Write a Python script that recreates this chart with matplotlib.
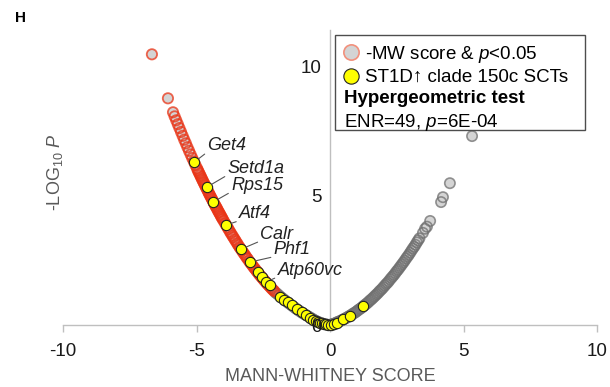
import numpy as np
import matplotlib
matplotlib.use('Agg')
import matplotlib.pyplot as plt
from matplotlib.lines import Line2D
from matplotlib.patches import Rectangle

plt.rcParams['font.family'] = ['Liberation Sans', 'DejaVu Sans']
plt.rcParams['mathtext.fontset'] = 'custom'
plt.rcParams['mathtext.rm'] = 'Liberation Sans'
plt.rcParams['mathtext.it'] = 'Liberation Sans:italic'
plt.rcParams['mathtext.bf'] = 'Liberation Sans:bold'
plt.rcParams['axes.unicode_minus'] = False

# all genes, negative MW score side
left_x = [-6.67, -6.07, -5.88, -5.82, -5.76, -5.70, -5.64, -5.58, -5.52, -5.46, -5.40, -5.34,
          -5.28, -5.22, -5.16, -5.10, -5.04, -4.98, -4.92, -4.86, -4.80, -4.74, -4.68, -4.62,
          -4.56, -4.50, -4.44, -4.38, -4.32, -4.26, -4.20, -4.14, -4.08, -4.02, -3.93, -3.84,
          -3.75, -3.66, -3.57, -3.48, -3.39, -3.30, -3.21, -3.12, -3.03, -2.94, -2.85, -2.76,
          -2.67, -2.58, -2.49, -2.40, -2.31, -2.22, -2.13, -2.04, -1.92, -1.79, -1.66, -1.53,
          -1.40, -1.27, -1.14, -1.01, -0.88, -0.75, -0.62, -0.49, -0.36, -0.23, -0.10, 0.0]
left_y = [10.46, 8.76, 8.22, 8.06, 7.91, 7.76, 7.61, 7.46, 7.31, 7.16, 7.02, 6.87,
          6.73, 6.59, 6.45, 6.32, 6.18, 6.05, 5.91, 5.78, 5.65, 5.52, 5.40, 5.27,
          5.14, 5.02, 4.90, 4.78, 4.66, 4.55, 4.43, 4.32, 4.20, 4.09, 3.93, 3.77,
          3.61, 3.46, 3.31, 3.16, 3.01, 2.88, 2.74, 2.60, 2.47, 2.35, 2.22, 2.10,
          1.98, 1.87, 1.76, 1.65, 1.55, 1.45, 1.35, 1.25, 1.15, 1.04, 0.93, 0.83,
          0.73, 0.63, 0.54, 0.45, 0.37, 0.29, 0.21, 0.14, 0.08, 0.04, 0.01, 0.0]
left2_x = [-4.95, -4.89, -4.83, -4.77, -4.71, -4.65, -4.59, -4.53, -4.47, -4.41, -4.35, -4.29,
           -4.23, -4.17, -4.11, -4.05, -3.98, -3.89, -3.80, -3.71, -3.62, -3.53, -3.44, -3.35,
           -3.26, -3.17, -3.08, -2.99, -2.90, -2.81, -2.72, -2.63, -2.54, -2.45, -2.36, -2.27,
           -2.18, -2.09, -1.98, -1.85, -1.72, -1.59, -1.46, -1.33, -1.20, -1.07, -0.94, -0.81,
           -0.68, -0.55, -0.42, -0.29, -0.16]
left2_y = [5.98, 5.85, 5.72, 5.59, 5.46, 5.33, 5.21, 5.08, 4.96, 4.84, 4.72, 4.60,
           4.49, 4.37, 4.26, 4.15, 4.02, 3.86, 3.70, 3.54, 3.39, 3.24, 3.09, 2.95,
           2.81, 2.68, 2.55, 2.41, 2.29, 2.17, 2.05, 1.93, 1.82, 1.71, 1.60, 1.50,
           1.40, 1.31, 1.21, 1.09, 0.98, 0.88, 0.78, 0.68, 0.58, 0.49, 0.41, 0.33,
           0.25, 0.17, 0.11, 0.06, 0.02]

# all genes, positive MW score side
right_x = [0.05, 0.15, 0.25, 0.35, 0.45, 0.55, 0.65, 0.75, 0.85, 0.95, 1.05, 1.15,
           1.25, 1.35, 1.45, 1.55, 1.65, 1.75, 1.85, 1.95, 2.05, 2.15, 2.25, 2.35,
           2.45, 2.55, 2.65, 2.75, 2.85, 2.95, 3.05, 3.15, 3.25, 3.35, 3.48, 3.56,
           3.63, 3.75, 4.16, 4.23, 4.49, 5.32]
right_y = [0.02, 0.05, 0.10, 0.14, 0.19, 0.24, 0.30, 0.36, 0.43, 0.49, 0.57, 0.64,
           0.73, 0.81, 0.90, 0.99, 1.09, 1.19, 1.30, 1.40, 1.52, 1.63, 1.76, 1.88,
           2.01, 2.14, 2.28, 2.42, 2.57, 2.71, 2.87, 3.02, 3.19, 3.35, 3.56, 3.72,
           3.80, 4.02, 4.75, 4.94, 5.48, 7.30]
right2_x = [0.10, 0.20, 0.30, 0.40, 0.50, 0.60, 0.70, 0.80, 0.90, 1.00, 1.10, 1.20,
            1.30, 1.40, 1.50, 1.60, 1.70, 1.80, 1.90, 2.00, 2.10, 2.20, 2.30, 2.40,
            2.50, 2.60, 2.70, 2.80, 2.90, 3.00, 3.10, 3.20, 3.30]
right2_y = [0.04, 0.07, 0.12, 0.16, 0.22, 0.27, 0.33, 0.39, 0.46, 0.53, 0.61, 0.68,
            0.77, 0.85, 0.95, 1.04, 1.14, 1.24, 1.35, 1.46, 1.58, 1.69, 1.82, 1.94,
            2.08, 2.21, 2.35, 2.49, 2.64, 2.79, 2.95, 3.10, 3.27]

# ST1D-up clade 150c SCT genes
hit_x = [-5.09, -4.61, -4.38, -3.90, -3.33, -3.00, -2.70, -2.55, -2.40, -2.25, -1.87, -1.72,
         -1.57, -1.42, -1.24, -1.05, -0.90, -0.75, -0.64, -0.52, -0.45, -0.37, -0.30, -0.22,
         -0.15, -0.07, 0.04, 0.15, 0.26, 0.49, 0.75, 1.24]
hit_y = [6.29, 5.33, 4.75, 3.86, 2.93, 2.43, 2.05, 1.85, 1.66, 1.54, 1.08, 0.97,
         0.89, 0.77, 0.62, 0.50, 0.39, 0.27, 0.19, 0.15, 0.12, 0.08, 0.08, 0.04,
         0.02, 0.01, 0.01, 0.04, 0.08, 0.23, 0.35, 0.73]

gene_names = ['Get4', 'Setd1a', 'Rps15', 'Atf4', 'Calr', 'Phf1', 'Atp60vc']
gene_idx = [0, 1, 2, 3, 4, 5, 8]
label_pos = [(-3.86, 6.95), (-2.77, 6.06), (-2.73, 5.41), (-2.81, 4.29),
             (-1.99, 3.51), (-1.42, 2.90), (-0.75, 2.12)]

all_x = np.array(left_x + left2_x + right_x + right2_x)
all_y = np.array(left_y + left2_y + right_y + right2_y)
sig = (all_x < 0) & (all_y > -np.log10(0.05))

fig = plt.figure(figsize=(6.1, 3.87), dpi=100)
ax = fig.add_axes([0.1033, 0.1602, 0.8754, 0.7623])

# fills first, then edges on top so the dense band takes the edge colour
ax.scatter(all_x[~sig], all_y[~sig], s=55, facecolor='#d4d4d4', edgecolor='none',
           clip_on=False, zorder=2)
ax.scatter(all_x[~sig], all_y[~sig], s=55, facecolor='none', edgecolor='#707070',
           linewidths=1.2, alpha=0.75, clip_on=False, zorder=3)
ax.scatter(all_x[sig], all_y[sig], s=55, facecolor='#d4d4d4', edgecolor='none',
           clip_on=False, zorder=2)
ax.scatter(all_x[sig], all_y[sig], s=55, facecolor='none', edgecolor='#ea3416',
           linewidths=1.3, alpha=0.75, clip_on=False, zorder=3)

ax.scatter(hit_x, hit_y, s=55, facecolor='#ffff00', edgecolor='#222222',
           linewidths=0.8, clip_on=False, zorder=4)

for name, i, pos in zip(gene_names, gene_idx, label_pos):
    ax.annotate(name, xy=(hit_x[i], hit_y[i]), xytext=pos, ha='center', va='center',
                fontsize=13, style='italic', color='#222222', zorder=5,
                arrowprops=dict(arrowstyle='-', color='#555555', lw=0.8,
                                relpos=(0, 0.1), shrinkA=0, shrinkB=4))

ax.set_xlim(-10, 10)
ax.set_ylim(0, 11.4)
ax.set_xticks([-10, -5, 0, 5, 10])
ax.set_yticks([0, 5, 10])
ax.spines['left'].set_position(('data', 0))
ax.spines['top'].set_visible(False)
ax.spines['right'].set_visible(False)
for s in ['left', 'bottom']:
    ax.spines[s].set_color('#bfbfbf')
    ax.spines[s].set_linewidth(1.0)
ax.tick_params(axis='x', direction='out', length=5, width=1, color='#bfbfbf',
               labelsize=13.5, labelcolor='#1a1a1a', pad=8)
ax.tick_params(axis='y', length=0, labelsize=13.5, labelcolor='#1a1a1a', pad=6)
ax.yaxis.set_zorder(5)
ax.set_xlabel('MANN-WHITNEY SCORE', fontsize=13, color='#595959', labelpad=6)

fig.text(0.090, 0.556, '-LOG$_{10}$ $P$', rotation=90, ha='center', va='center',
         fontsize=13, color='#595959')
fig.text(0.034, 0.953, 'H', fontsize=11, fontweight='bold', ha='center', va='center')

# legend box
ax.add_patch(Rectangle((0.5094, 0.661), 0.4682, 0.322, transform=ax.transAxes,
                       facecolor='white', edgecolor='#4d4d4d', lw=1.0, zorder=10,
                       clip_on=False))
handles = [Line2D([], [], linestyle='none', marker='o', markersize=11,
                  markerfacecolor='#d4d4d4', markeredgecolor='#f2907c', markeredgewidth=1.2),
           Line2D([], [], linestyle='none', marker='o', markersize=11,
                  markerfacecolor='#ffff00', markeredgecolor='#222222', markeredgewidth=0.8)]
leg = ax.legend(handles, ['-MW score & $p$<0.05', 'ST1D\u2191 clade 150c SCTs'],
                loc='upper left', bbox_to_anchor=(0.526, 0.953), frameon=False,
                fontsize=13.5, borderpad=0, borderaxespad=0, handlelength=0.8,
                handletextpad=0.35, labelspacing=0.22)
leg.set_zorder(11)
ax.text(0.526, 0.769, 'Hypergeometric test', transform=ax.transAxes, fontsize=13.5,
        fontweight='bold', ha='left', va='center', zorder=11)
ax.text(0.526, 0.688, 'ENR=49, $p$=6E-04', transform=ax.transAxes, fontsize=13.5,
        ha='left', va='center', zorder=11)

fig.savefig('out.png', dpi=100)
